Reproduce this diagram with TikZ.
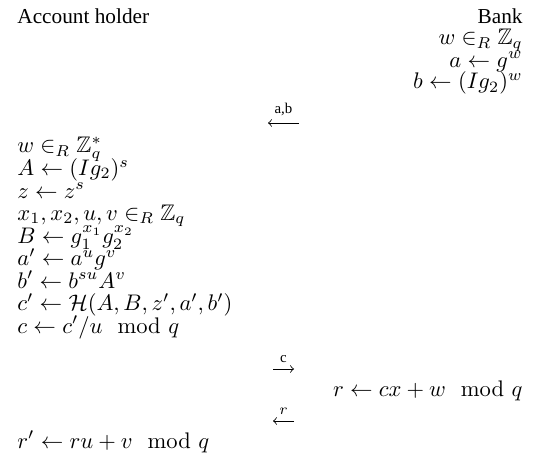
\RequirePackage{fix-cm}
\documentclass[tikz,border=0pt]{standalone}
\usepackage[no-math]{fontspec}
\setmainfont{Liberation Serif}
\usepackage{amsmath}
\usepackage{amssymb}
\usetikzlibrary{positioning}

\tikzset{
  head/.style={inner sep=0pt},
  holder/.style={anchor=base west, inner sep=0pt, font=\fontsize{10.6pt}{12pt}\selectfont},
  bank/.style={anchor=base east, inner sep=0pt, font=\fontsize{10.6pt}{12pt}\selectfont},
  msg/.style={->},
  msglbl/.style={font=\scriptsize, inner sep=0pt, above=3pt}
}

\begin{document}
\begin{tikzpicture}[x=0.47pt, y=-0.47pt]
  \useasboundingbox (0,0) rectangle (537,456);

  \node[head, anchor=base west] (ah) at (17,23) {Account holder};
  \node[head, anchor=base east] (bk) at (523,23) {Bank};

  % bank commits
  \node[bank] (bw) at (523,45) {$w \in_R \mathbb{Z}_q$};
  \node[bank] (ba) at (523,67) {$a \leftarrow g^w$};
  \node[bank] (bb) at (523,89) {$b \leftarrow (Ig_2)^w$};

  \coordinate (ab1) at (299,123);
  \coordinate (ab2) at (268,123);
  \draw[msg] (ab1) -- node[msglbl] {a,b} (ab2);

  % account holder
  \node[holder] (hw) at (17,153) {$w \in_R \mathbb{Z}_q^*$};
  \node[holder] (hA) at (17,175.5) {$A \leftarrow (Ig_2)^s$};
  \node[holder] (hz) at (17,198) {$z \leftarrow z^s$};
  \node[holder] (hx) at (17,220.5) {$x_1, x_2, u, v \in_R \mathbb{Z}_q$};
  \node[holder] (hB) at (17,243) {$B \leftarrow g_1^{x_1} g_2^{x_2}$};
  \node[holder] (ha) at (17,265.5) {$a' \leftarrow a^u g^v$};
  \node[holder] (hb) at (17,288) {$b' \leftarrow b^{su} A^v$};
  \node[holder] (hc1) at (17,310.5) {$c' \leftarrow \mathcal{H}(A, B, z', a', b')$};
  \node[holder] (hc) at (17,333) {$c \leftarrow c'/u \mod q$};

  \coordinate (c1) at (273,369);
  \coordinate (c2) at (294,369);
  \draw[msg] (c1) -- node[msglbl] {c} (c2);

  \node[bank] (br) at (523,396) {$r \leftarrow cx + w \mod q$};

  \coordinate (r1) at (294,421);
  \coordinate (r2) at (273,421);
  \draw[msg] (r1) -- node[msglbl] {$r$} (r2);

  \node[holder] (hr) at (17,448) {$r' \leftarrow ru + v \mod q$};
\end{tikzpicture}
\end{document}
